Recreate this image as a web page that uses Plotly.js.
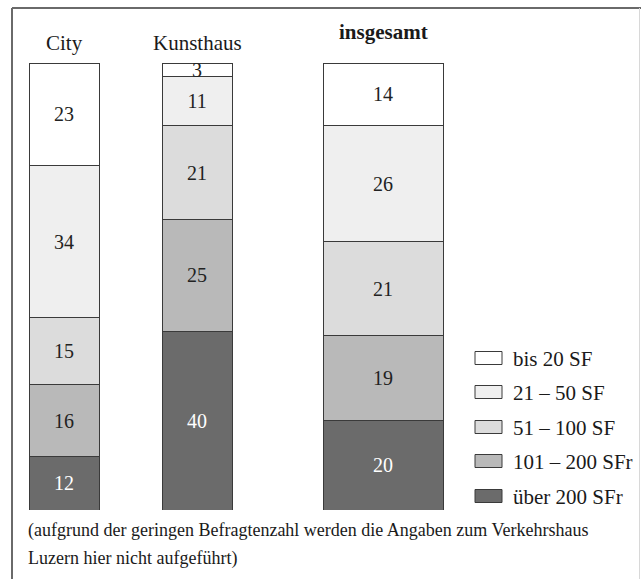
<!DOCTYPE html>
<html>
<head>
<meta charset="utf-8">
<script src="https://cdn.plot.ly/plotly-3.0.1.min.js"></script>
<style>html,body{margin:0;padding:0;background:#fff;}#chart{width:641px;height:579px;}</style>
</head>
<body>
<div id="chart"></div>
<script>
// ---- data ----
var groups = ["City", "Kunsthaus", "insgesamt"];
var classes = ["bis 20 SF", "21 – 50 SF", "51 – 100 SF", "101 – 200 SFr", "über 200 SFr"];
var bis20   = [23, 3, 14];
var v21_50  = [34, 11, 26];
var v51_100 = [15, 21, 21];
var v101_200= [16, 25, 19];
var ueber200= [12, 40, 20];
var footnote = ["(aufgrund der geringen Befragtenzahl werden die Angaben zum Verkehrshaus", "Luzern hier nicht aufgeführt)"];

// ---- styles / layout ----
var seriesValues = [bis20, v21_50, v51_100, v101_200, ueber200];
var colors = ["#ffffff", "#efefef", "#dcdcdc", "#b9b9b9", "#6b6b6b"];
var textColors = ["#222", "#222", "#222", "#222", "#ffffff"];
var barPos = [64, 197, 383];
var barWidths = [70, 70, 120];
var FONT = "Liberation Serif";
var plotTop = 63, plotBottom = 510;
function py(p) { return (plotBottom - p) / (plotBottom - plotTop); }

var traces = [];
// stack from bottom (über 200) to top (bis 20)
for (var k = classes.length - 1; k >= 0; k--) {
  traces.push({
    type: "bar",
    name: classes[k],
    x: barPos,
    y: seriesValues[k],
    width: barWidths,
    text: seriesValues[k].map(String),
    texttemplate: "%{text}",
    textposition: "inside",
    insidetextanchor: "middle",
    textangle: 0,
    constraintext: "none",
    textfont: {family: FONT, size: 20, color: textColors[k]},
    marker: {color: colors[k], line: {color: "#3a3a3a", width: 1}},
    hoverinfo: "skip",
    showlegend: false
  });
}

var annotations = [];
var labelY = [43, 43, 32];
groups.forEach(function (g, i) {
  annotations.push({
    x: barPos[i], xref: "x", y: py(labelY[i]), yref: "paper",
    text: i === 2 ? "<b>" + g + "</b>" : g,
    showarrow: false, xanchor: "center", yanchor: "middle",
    font: {family: FONT, size: 21, color: "#1a1a1a"}
  });
});

var shapes = [];
// frame
shapes.push({type: "line", xref: "x", yref: "paper", x0: 12, x1: 641, y0: py(8), y1: py(8), line: {color: "#6a6a6a", width: 2}});
shapes.push({type: "line", xref: "x", yref: "paper", x0: 12, x1: 12, y0: py(8), y1: py(579), line: {color: "#6a6a6a", width: 2}});
shapes.push({type: "line", xref: "x", yref: "paper", x0: 639.5, x1: 639.5, y0: py(8), y1: py(579), line: {color: "#d8d8d8", width: 1}});

// legend
var legY = [358, 392, 427, 461, 496];
classes.forEach(function (c, k) {
  shapes.push({type: "rect", xref: "x", yref: "paper", x0: 475, x1: 502,
    y0: py(legY[k] - 6.5), y1: py(legY[k] + 6.5),
    fillcolor: colors[k], line: {color: "#3a3a3a", width: 1}});
  annotations.push({
    x: 511, xref: "x", y: py(legY[k] + 1), yref: "paper",
    text: c, showarrow: false, xanchor: "left", yanchor: "middle",
    font: {family: FONT, size: 21, color: "#1a1a1a"}
  });
});

// footnote
var footY = [530, 558];
footnote.forEach(function (t, i) {
  annotations.push({
    x: 26, xref: "x", y: py(footY[i]), yref: "paper",
    text: t, showarrow: false, xanchor: "left", yanchor: "middle",
    font: {family: FONT, size: 18, color: "#1a1a1a"}
  });
});

var layout = {
  width: 641, height: 579,
  margin: {l: 0, r: 0, t: plotTop, b: 579 - plotBottom, pad: 0},
  barmode: "stack",
  paper_bgcolor: "#ffffff",
  plot_bgcolor: "#ffffff",
  xaxis: {range: [0, 641], visible: false, fixedrange: true},
  yaxis: {range: [0, 100], visible: false, fixedrange: true},
  showlegend: false,
  annotations: annotations,
  shapes: shapes
};

Plotly.newPlot("chart", traces, layout, {displayModeBar: false, staticPlot: true});
</script>
</body>
</html>
